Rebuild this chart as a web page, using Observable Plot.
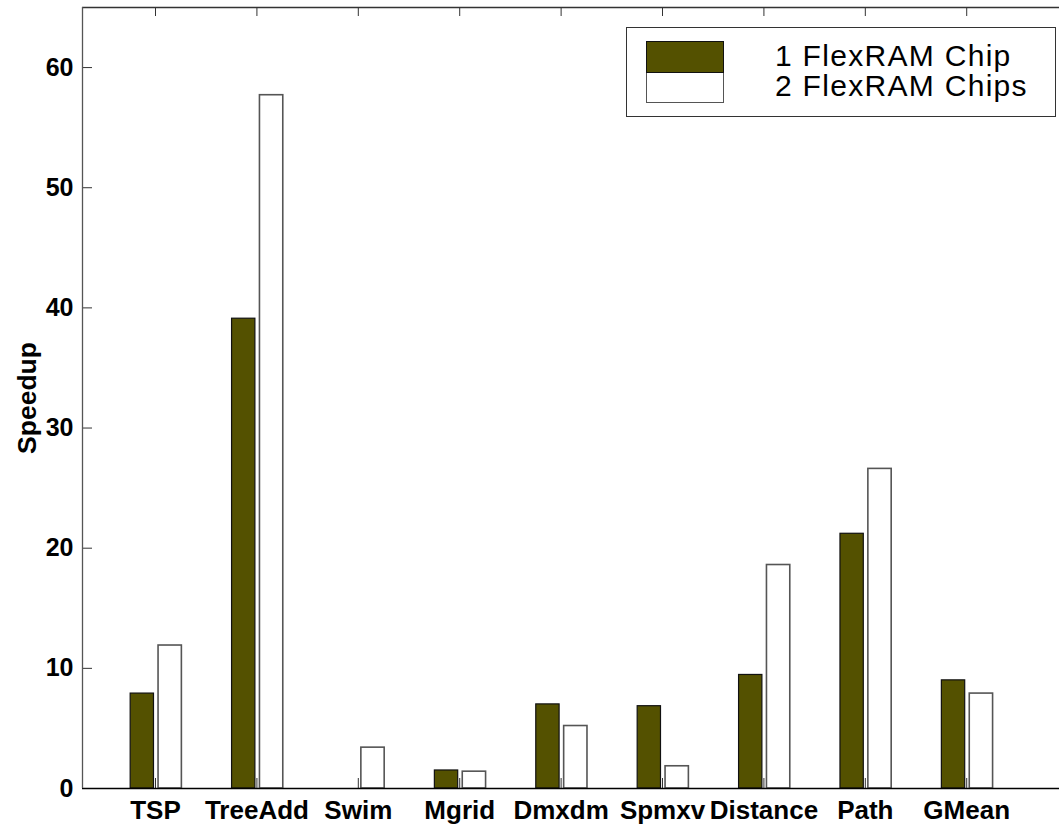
<!DOCTYPE html>
<html>
<head>
<meta charset="utf-8">
<script src="https://cdn.jsdelivr.net/npm/d3@7"></script>
<script src="https://cdn.jsdelivr.net/npm/@observablehq/plot@0.6"></script>
<style>
  html, body { margin: 0; padding: 0; background: #fff; }
  #wrap { position: relative; width: 1059px; height: 827px; overflow: hidden; }
  #legend {
    position: absolute; left: 626px; top: 27px; width: 428px; height: 88px;
    border: 1.5px solid #333; background: #fff; box-sizing: content-box;
    font-family: "Liberation Sans", Arial, sans-serif; font-size: 30px; color: #000;
    letter-spacing: 1.3px;
  }
  #legend .sw { position: absolute; left: 19px; width: 78px; box-sizing: border-box; }
  #legend .t { position: absolute; left: 148px; line-height: 1; white-space: nowrap; }
</style>
</head>
<body>
<div id="wrap"></div>
<script>
const categories = ["TSP", "TreeAdd", "Swim", "Mgrid", "Dmxdm", "Spmxv", "Distance", "Path", "GMean"];
const oneChip  = [7.9, 39.1, 0, 1.5, 7.0, 6.85, 9.45, 21.2, 9.0];
const twoChips = [11.9, 57.7, 3.4, 1.4, 5.2, 1.85, 18.6, 26.6, 7.9];
const seriesNames = ["1 FlexRAM Chip", "2 FlexRAM Chips"];
const yTicks = [0, 10, 20, 30, 40, 50, 60];
const yLabel = "Speedup";

const olive = "#545100";
const idx = categories.map((_, i) => i + 1);

const rows = [];
categories.forEach((c, i) => {
  rows.push({cat: c, i: i + 1, series: seriesNames[0], v: oneChip[i], a: -0.245, b: -0.015});
  rows.push({cat: c, i: i + 1, series: seriesNames[1], v: twoChips[i], a: 0.03, b: 0.26});
});
const bars1 = rows.filter(d => d.series === seriesNames[0] && d.v > 0);
const bars2 = rows.filter(d => d.series === seriesNames[1] && d.v > 0);

const xDomain = [0.28, 9.915];
const yDomain = [0, 65];

const chart = Plot.plot({
  width: 1059,
  height: 827,
  marginLeft: 82,
  marginRight: 0,
  marginTop: 7,
  marginBottom: 39,
  style: {fontFamily: "'Liberation Sans', Arial, sans-serif", fontSize: "25px", fontWeight: "bold", color: "#000", background: "#fff"},
  x: {domain: xDomain},
  y: {domain: yDomain},
  marks: [
    Plot.rectY(bars1, {x1: d => d.i + d.a, x2: d => d.i + d.b, y1: 0, y2: "v", fill: olive, stroke: "#111", strokeWidth: 1.2}),
    Plot.rectY(bars2, {x1: d => d.i + d.a, x2: d => d.i + d.b, y1: 0, y2: "v", fill: "#fff", stroke: "#555", strokeWidth: 1.6}),
    Plot.axisX({anchor: "bottom", ticks: idx, tickFormat: d => categories[d - 1], tickSize: -10, tickPadding: 22, fontSize: 26, stroke: "#333", label: null}),
    Plot.axisX({anchor: "top", ticks: idx, tickFormat: () => "", tickSize: -8, tickPadding: 0, stroke: "#333", label: null}),
    Plot.axisY({anchor: "left", ticks: yTicks, tickSize: -10, tickPadding: 19, fontSize: 25, stroke: "#333", label: null}),
    Plot.ruleY([0], {stroke: "#000", strokeWidth: 1.3}),
    Plot.ruleY([yDomain[1]], {stroke: "#333", strokeWidth: 1.3}),
    Plot.ruleX([xDomain[0]], {stroke: "#555", strokeWidth: 1.3}),
    Plot.text([yLabel], {frameAnchor: "left", textAnchor: "middle", dx: -55, rotate: -90, text: d => d, fontSize: 26.5, fontWeight: "bold", fill: "#000"})
  ]
});

const wrap = document.getElementById("wrap");
wrap.appendChild(chart);

const legend = document.createElement("div");
legend.id = "legend";
legend.innerHTML = `
  <div class="sw" style="top:13px;height:32px;background:${olive};border:1px solid #111;"></div>
  <div class="sw" style="top:45px;height:30px;background:#fff;border:1px solid #555;border-top:none;"></div>
  <div class="t" style="top:13px;">${seriesNames[0]}</div>
  <div class="t" style="top:43px;">${seriesNames[1]}</div>
`;
wrap.appendChild(legend);
</script>
</body>
</html>
